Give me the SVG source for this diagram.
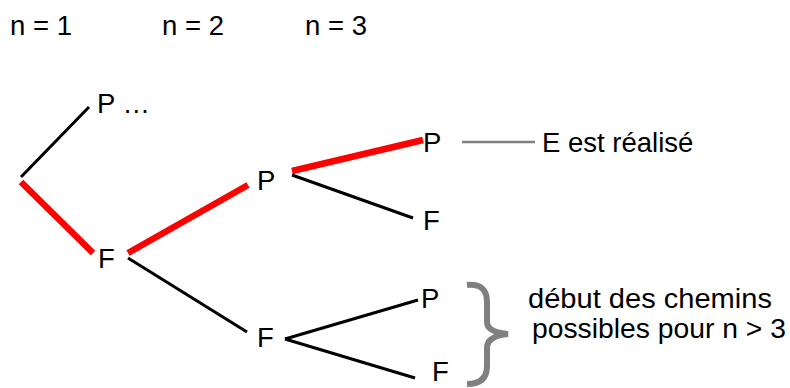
<svg xmlns="http://www.w3.org/2000/svg" width="790" height="388" viewBox="0 0 790 388">
<style>
text{font-family:"Liberation Sans",Arial,sans-serif;font-size:27.5px;fill:#000}
.b{stroke:#000;stroke-width:3;fill:none}
.r{stroke:#ff0000;stroke-width:6.5;fill:none}
.g{stroke:#808080;fill:none}
</style>
<rect width="790" height="388" fill="#fff"/>
<g id="headers">
<text x="10" y="35">n = 1</text>
<text x="162" y="35">n = 2</text>
<text x="305" y="35">n = 3</text>
</g>
<g id="connectors">
<line class="b" x1="21" y1="177" x2="89" y2="107"/>
<line class="r" x1="21" y1="182" x2="93" y2="253"/>
<line class="r" x1="128" y1="253" x2="248" y2="185"/>
<line class="b" x1="128" y1="258" x2="247" y2="332"/>
<line class="r" x1="292" y1="171" x2="423" y2="140"/>
<line class="b" x1="292" y1="175" x2="413" y2="218"/>
<line class="b" x1="285" y1="339" x2="418" y2="300"/>
<line class="b" x1="285" y1="339" x2="415" y2="378"/>
<line class="g" stroke-width="2.5" x1="462" y1="142" x2="535" y2="142"/>
<path class="g" stroke-width="6" d="M467,285 Q487,283 487,302 L487,322 Q487,332 508,334 Q487,336 487,348 L487,366 Q487,384 467,384"/>
</g>
<g id="n1P"><text x="97" y="113">P …</text></g>
<g id="n1F"><text x="98" y="268">F</text></g>
<g id="n2P"><text x="257" y="190">P</text></g>
<g id="n2F"><text x="257" y="347">F</text></g>
<g id="n3PP"><text x="423" y="152">P</text></g>
<g id="n3PF"><text x="423" y="230">F</text></g>
<g id="n3FP"><text x="421" y="308">P</text></g>
<g id="n3FF"><text x="432" y="381">F</text></g>
<g id="label1"><text x="542" y="152">E est réalisé</text></g>
<g id="label2">
<text x="528" y="308" textLength="244" lengthAdjust="spacingAndGlyphs">début des chemins</text>
<text x="532" y="338" textLength="254" lengthAdjust="spacingAndGlyphs">possibles pour n &gt; 3</text>
</g>
</svg>
